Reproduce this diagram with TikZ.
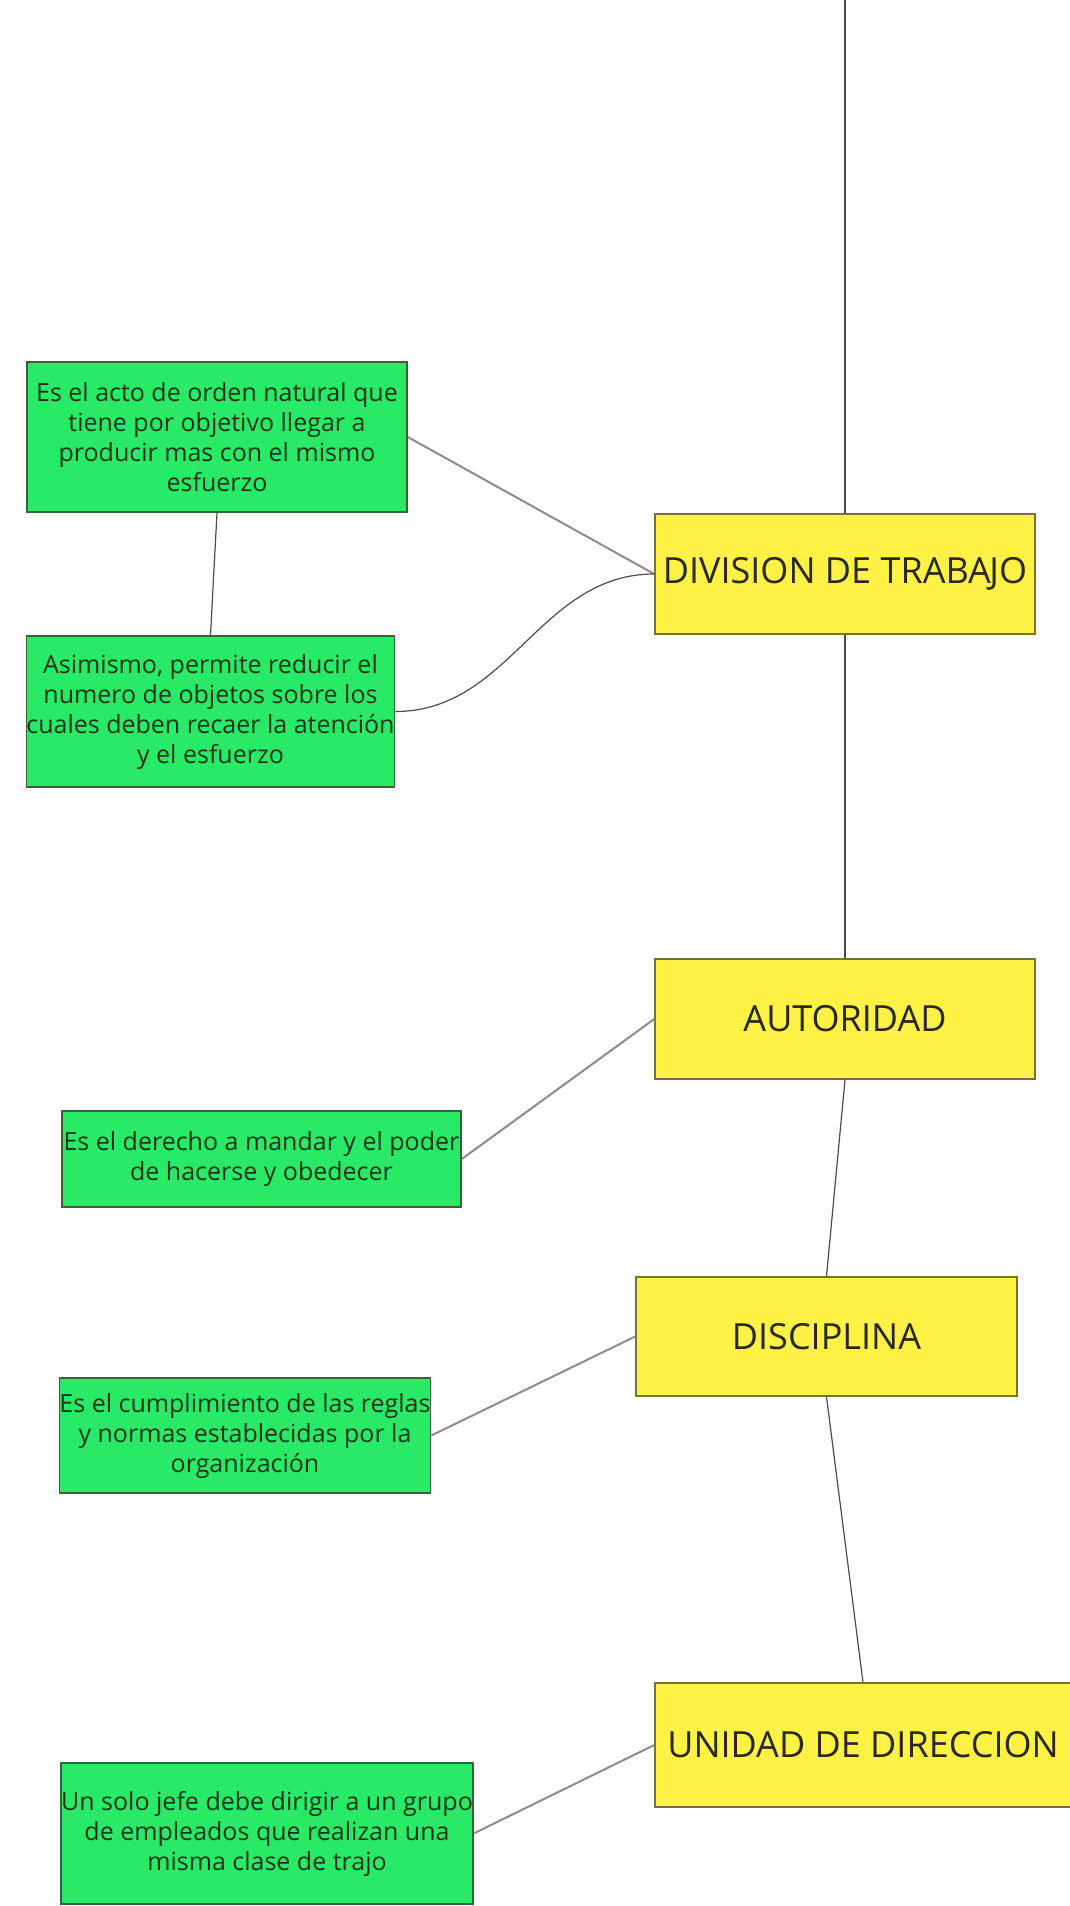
\documentclass[tikz,border=0pt]{standalone}
\usepackage{fontspec}
\setmainfont{Open Sans}

\definecolor{verde}{RGB}{40,234,102}
\definecolor{verdeborde}{RGB}{50,100,60}
\definecolor{verdetexto}{RGB}{20,50,25}
\definecolor{amarillo}{RGB}{255,241,70}
\definecolor{amarilloborde}{RGB}{120,115,50}
\definecolor{amarillotexto}{RGB}{40,40,15}

\tikzset{
  principio/.style={draw=amarilloborde, fill=amarillo, line width=1.5pt,
    text=amarillotexto, font=\fontsize{36}{43}\selectfont, inner sep=0pt},
  idea/.style={draw=verdeborde, fill=verde, line width=1.5pt, align=center,
    text=verdetexto, font=\fontsize{25}{30}\selectfont, inner sep=0pt},
  tronco/.style={draw=black!70, line width=1.2pt},
  rama/.style={draw=black!45, line width=2pt},
}

\begin{document}
\begin{tikzpicture}[x=1pt,y=-1pt]
  \fill[white] (0,0) rectangle (1070,1906);
  \useasboundingbox (0,0) rectangle (1070,1906);

  % principios
  \node[principio, minimum width=380pt, minimum height=120pt] (division) at (845,574) {DIVISION DE TRABA\kern-1.5pt JO};
  \node[principio, minimum width=380pt, minimum height=120pt] (autoridad) at (845,1019) {AUTORIDAD};
  \node[principio, minimum width=381pt, minimum height=119pt] (disciplina) at (826.5,1336.5) {DISCIPLINA};
  \node[principio, minimum width=416pt, minimum height=124pt] (unidad) at (863,1745) {UNIDAD DE DIRECCION};

  % explicaciones
  \node[idea, minimum width=380pt, minimum height=150pt] (acto) at (217,437)
    {Es el acto de orden natural que\\tiene por objetivo llegar a\\producir mas con el mismo\\esfuerzo};
  \node[idea, minimum width=367pt, minimum height=151pt] (asimismo) at (210.5,711.5)
    {Asimismo, permite reducir el\\numero de objetos sobre los\\cuales deben recaer la atención\\y el esfuerzo};
  \node[idea, minimum width=399pt, minimum height=96pt] (derecho) at (261.5,1159)
    {Es el derecho a mandar y el poder\\de hacerse y obedecer};
  \node[idea, minimum width=366pt, minimum height=115pt] (cumplimiento) at (245,1435.5)
    {Es el cumplimiento de las reglas\\y normas establecidas por la\\organización};
  \node[idea, minimum width=410pt, minimum height=141pt] (jefe) at (267,1833.5)
    {Un solo jefe debe dirigir a un grupo\\de empleados que realizan una\\misma clase de trajo};

  \coordinate (arriba) at (845,0);

  % eje
  \draw[tronco] (arriba) -- (division.north);
  \draw[tronco] (division.south) -- (autoridad.north);
  \draw[tronco] (autoridad.south) -- (disciplina.north);
  \draw[tronco] (disciplina.south) -- (unidad.north);
  \draw[tronco] (acto.south) -- (asimismo.north);

  % ramas
  \draw[rama] (acto.east) -- (division.west);
  \draw[tronco] (asimismo.east) to[out=0,in=180] (division.west);
  \draw[rama] (derecho.east) -- (autoridad.west);
  \draw[rama] (cumplimiento.east) -- (disciplina.west);
  \draw[rama] (jefe.east) -- (unidad.west);
\end{tikzpicture}
\end{document}
